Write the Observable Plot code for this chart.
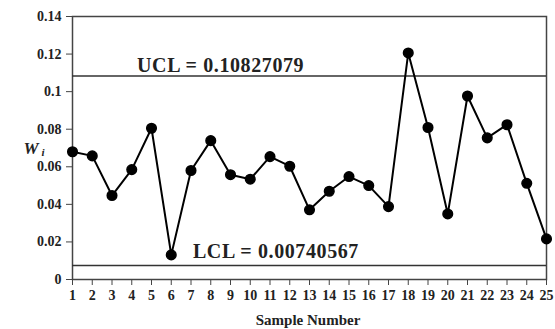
<!DOCTYPE html>
<html>
<head>
<meta charset="utf-8">
<script src="https://cdn.jsdelivr.net/npm/d3@7"></script>
<script src="https://cdn.jsdelivr.net/npm/@observablehq/plot@0.6"></script>
<style>
  html, body { margin: 0; padding: 0; background: #fff; }
  #chart svg { display: block; }
</style>
</head>
<body>
<div id="chart"></div>
<script>
const samples = d3.range(1, 26);
const wValues = [0.068, 0.0658, 0.0447, 0.0585, 0.0805, 0.0131, 0.058, 0.0739, 0.0558, 0.0534,
                 0.0654, 0.0603, 0.0371, 0.047, 0.0548, 0.05, 0.0388, 0.1206, 0.0809, 0.0349,
                 0.0977, 0.0754, 0.0824, 0.0512, 0.0216];
const yTicks = [0, 0.02, 0.04, 0.06, 0.08, 0.1, 0.12, 0.14];
const ucl = 0.10827079;
const lcl = 0.00740567;
const uclLabel = "UCL = 0.10827079";
const lclLabel = "LCL = 0.00740567";
const xLabel = "Sample Number";

const data = samples.map((s, i) => ({sample: s, w: wValues[i]}));
const font = "'Liberation Serif', 'Times New Roman', serif";

const plot = Plot.plot({
  width: 555,
  height: 329,
  marginLeft: 72,
  marginRight: 9,
  marginTop: 16,
  marginBottom: 50,
  style: {fontFamily: font, fontWeight: "bold", color: "#222", background: "#fff"},
  x: {domain: [1, 25]},
  y: {domain: [0, 0.14]},
  marks: [
    Plot.axisX({ticks: samples, tickFormat: d => String(d), tickSize: 6, tickPadding: 5, fontSize: 14, fontWeight: "bold", label: null, stroke: "#444"}),
    Plot.axisY({ticks: yTicks, tickFormat: d => String(+d.toFixed(2)), tickSize: 6, tickPadding: 5, fontSize: 14, fontWeight: "bold", label: null, stroke: "#444"}),
    Plot.frame({stroke: "#444", strokeWidth: 1.5}),
    Plot.ruleY([ucl, lcl], {stroke: "#333", strokeWidth: 1.5}),
    Plot.text([{x: 8.5, y: ucl, t: uclLabel}], {x: "x", y: "y", text: "t", dy: -11, fontSize: 20, fontWeight: "bold", fill: "#222"}),
    Plot.text([{x: 11.3, y: lcl, t: lclLabel}], {x: "x", y: "y", text: "t", dy: -14, fontSize: 20, fontWeight: "bold", fill: "#222"}),
    Plot.line(data, {x: "sample", y: "w", stroke: "#000", strokeWidth: 2}),
    Plot.dot(data, {x: "sample", y: "w", r: 4.8, fill: "#000", stroke: "#000"})
  ]
});

const svg = d3.select(plot);
svg.selectAll("text").filter(function() { return this.textContent === uclLabel || this.textContent === lclLabel; })
  .style("letter-spacing", "0.6px");
svg.append("text")
  .attr("x", 308).attr("y", 325)
  .attr("text-anchor", "middle")
  .style("font-family", font).style("font-weight", "bold").style("font-size", "15px")
  .attr("fill", "#222")
  .text(xLabel);
svg.append("text")
  .attr("x", 31).attr("y", 154)
  .style("font-family", font).style("font-weight", "bold").style("font-style", "italic").style("font-size", "17px")
  .attr("fill", "#222")
  .text("W");
svg.append("text")
  .attr("x", 43).attr("y", 156)
  .style("font-family", font).style("font-weight", "bold").style("font-style", "italic").style("font-size", "11px")
  .attr("fill", "#222")
  .text("i");

document.getElementById("chart").appendChild(plot);
</script>
</body>
</html>
